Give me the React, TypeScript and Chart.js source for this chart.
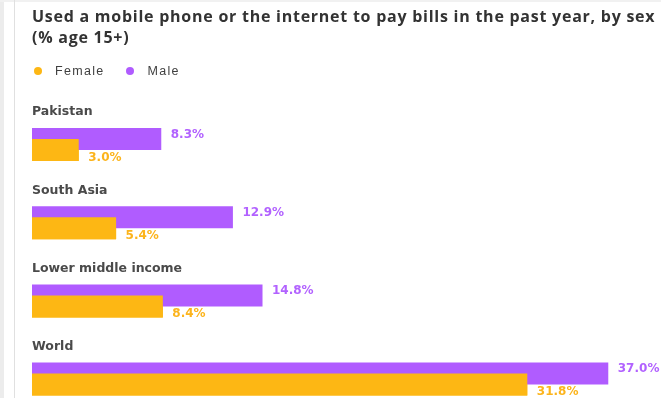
import React, { useEffect, useRef } from 'react';
import { Chart, registerables } from 'chart.js';

Chart.register(...registerables);

// ---- data ----
const TITLE_LINES = [
  'Used a mobile phone or the internet to pay bills in the past year, by sex',
  '(% age 15+)',
];
const CATEGORIES = ['Pakistan', 'South Asia', 'Lower middle income', 'World'];
const SERIES_NAMES = ['Female', 'Male'];
const FEMALE_VALUES = [3.0, 5.4, 8.4, 31.8];
const MALE_VALUES = [8.3, 12.9, 14.8, 37.0];
const X_MAX = 40;

// ---- styles ----
const FEMALE_COLOR = '#fdb714';
const MALE_COLOR = '#b05cff';
const FEMALE_LABEL_COLOR = '#fcb41c';
const MALE_LABEL_COLOR = '#b262ff';
const SERIES_COLORS = [FEMALE_COLOR, MALE_COLOR];

const overlayPlugin = {
  id: 'overlayAndLabels',
  afterDatasetsDraw(chart: any) {
    const ctx = chart.ctx;
    // female bars (dataset 1) sit over the male bars
    const femaleMeta = chart.getDatasetMeta(1);
    femaleMeta.controller.draw();

    ctx.save();
    ctx.font = 'bold 12px "DejaVu Sans"';
    ctx.textAlign = 'left';
    ctx.textBaseline = 'alphabetic';
    chart.data.datasets.forEach((ds: any, di: number) => {
      const meta = chart.getDatasetMeta(di);
      meta.data.forEach((bar: any, i: number) => {
        const { x, y, height } = bar.getProps(['x', 'y', 'height'], true);
        const v = ds.data[i] as number;
        const text = v.toFixed(1) + '%';
        const isMale = di === 0;
        ctx.fillStyle = isMale ? MALE_LABEL_COLOR : FEMALE_LABEL_COLOR;
        const ty = isMale ? y - height / 2 + 9.7 : y + height / 2 - 0.3;
        ctx.fillText(text, x + 9.5, ty);
      });
    });
    ctx.restore();
  },
};

export default function App() {
  const canvasRef = useRef<HTMLCanvasElement | null>(null);

  useEffect(() => {
    const canvas = canvasRef.current;
    if (!canvas) return;
    const chart = new Chart(canvas, {
      type: 'bar',
      data: {
        labels: CATEGORIES,
        datasets: [
          {
            label: SERIES_NAMES[1],
            data: MALE_VALUES,
            backgroundColor: MALE_COLOR,
            borderWidth: 0,
            clip: false as any,
          },
          {
            label: SERIES_NAMES[0],
            data: FEMALE_VALUES,
            backgroundColor: FEMALE_COLOR,
            borderWidth: 0,
            clip: false as any,
          },
        ],
      },
      options: {
        indexAxis: 'y',
        responsive: false,
        animation: false,
        events: [],
        categoryPercentage: 0.2813,
        barPercentage: 2,
        layout: { padding: { top: 144.5, bottom: 18.9, left: 32, right: 6 } },
        plugins: {
          legend: { display: false },
          title: { display: false },
          tooltip: { enabled: false },
        },
        scales: {
          x: {
            type: 'linear',
            min: 0,
            max: X_MAX,
            display: false,
          },
          y: {
            type: 'category',
            offset: false,
            grid: { display: false, drawTicks: false },
            border: { display: false },
            ticks: {
              mirror: true,
              padding: 0,
              labelOffset: -32.3,
              color: '#4a4a4a',
              font: { family: '"DejaVu Sans"', size: 12.5, weight: 'bold' },
            },
          },
        },
      } as any,
      plugins: [overlayPlugin],
    });
    return () => chart.destroy();
  }, []);

  return (
    <div
      style={{
        position: 'fixed',
        left: 0,
        top: 0,
        width: 661,
        height: 398,
        background: '#ffffff',
        overflow: 'hidden',
      }}
    >
      <div style={{ position: 'absolute', left: 0, top: 0, width: 4, height: '100%', background: '#ececec' }} />
      <div style={{ position: 'absolute', left: 0, top: 0, width: '100%', height: 2, background: '#f1f1f1' }} />
      <div style={{ position: 'absolute', left: 14, top: 0, width: 1, height: '100%', background: '#e0e0e0' }} />
      <canvas ref={canvasRef} width={661} height={398} style={{ position: 'absolute', left: 0, top: 0 }} />
      <div
        style={{
          position: 'absolute',
          left: 32,
          top: 6,
          fontFamily: '"Open Sans", sans-serif',
          fontWeight: 700,
          fontSize: 16,
          letterSpacing: '0.75px',
          lineHeight: '21px',
          color: '#333333',
          whiteSpace: 'nowrap',
        }}
      >
        {TITLE_LINES.map((t) => (
          <div key={t}>{t}</div>
        ))}
      </div>
      <div
        style={{
          position: 'absolute',
          left: 34,
          top: 64,
          display: 'flex',
          alignItems: 'center',
          fontFamily: '"Liberation Sans", Arial, sans-serif',
          fontSize: 12.5,
          lineHeight: '14px',
          letterSpacing: '1.3px',
          color: '#3f3f3f',
        }}
      >
        {SERIES_NAMES.map((name, i) => (
          <div key={name} style={{ display: 'flex', alignItems: 'center', marginRight: 22 }}>
            <span
              style={{
                display: 'inline-block',
                width: 8,
                height: 8,
                borderRadius: '50%',
                background: SERIES_COLORS[i],
                marginRight: 13,
              }}
            />
            <span>{name}</span>
          </div>
        ))}
      </div>
    </div>
  );
}
